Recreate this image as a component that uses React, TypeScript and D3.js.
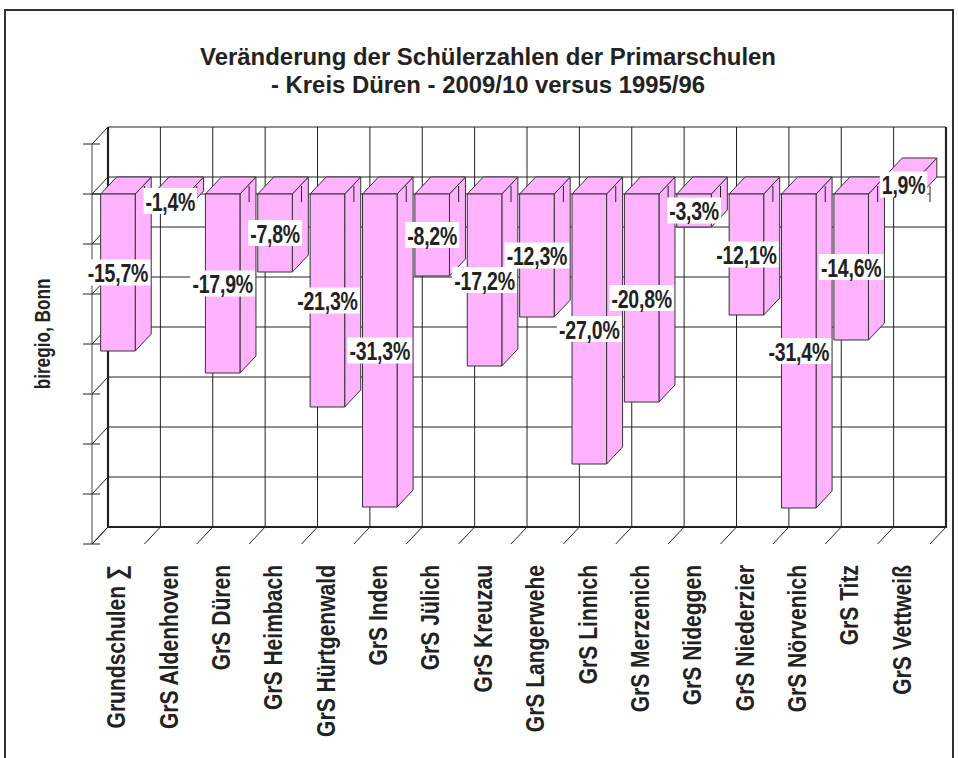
import React from "react";
import * as d3 from "d3";

const titleLines = [
  "Veränderung der Schülerzahlen der Primarschulen",
  "- Kreis Düren - 2009/10 versus 1995/96",
];
const yAxisTitle = "biregio, Bonn";
const categories = [
  "Grundschulen ∑",
  "GrS Aldenhoven",
  "GrS Düren",
  "GrS Heimbach",
  "GrS Hürtgenwald",
  "GrS Inden",
  "GrS Jülich",
  "GrS Kreuzau",
  "GrS Langerwehe",
  "GrS Linnich",
  "GrS Merzenich",
  "GrS Nideggen",
  "GrS Niederzier",
  "GrS Nörvenich",
  "GrS Titz",
  "GrS Vettweiß",
];
const values = [
  -15.7, -1.4, -17.9, -7.8, -21.3, -31.3, -8.2, -17.2, -12.3, -27.0, -20.8,
  -3.3, -12.1, -31.4, -14.6, 1.9,
];
const yTicks = [5, 0, -5, -10, -15, -20, -25, -30, -35];

const FONT = "'Liberation Sans', Arial, Helvetica, sans-serif";
const DX = 16;
const DY = 17;

const charW: Record<string, number> = {
  "0": 0.556, "1": 0.556, "2": 0.556, "3": 0.556, "4": 0.556, "5": 0.556,
  "6": 0.556, "7": 0.556, "8": 0.556, "9": 0.556, ",": 0.278, "-": 0.333,
  "%": 0.889,
};

function fmt(v: number) {
  return v.toFixed(1).replace(".", ",") + "%";
}

export default function App() {
  const W = 958;
  const H = 758;
  const x = d3.scaleBand<string>().domain(categories).range([92, 930]).padding(0);
  const y = d3.scaleLinear().domain([-35, 5]).range([544, 144]);
  const step = x.step();
  const barInset = step * 0.165;
  const barW = step * 0.66;
  const frontLeft = x.range()[0];
  const frontRight = x.range()[1];
  const backLeft = frontLeft + DX;
  const backRight = frontRight + DX;
  const backTop = y(5) - DY;
  const backBottom = y(-35) - DY;
  const y0 = y(0);
  const boundaries = d3.range(categories.length + 1).map((i) => frontLeft + i * step);

  const labelFs = 26;
  const labelK = 0.75;
  const catFs = 26;
  const catK = 0.81;
  const stroke = "#222";

  return (
    <svg
      width={W}
      height={H}
      style={{ position: "absolute", left: 0, top: 0, background: "#fff" }}
      fontFamily={FONT}
    >
      <rect x={0} y={0} width={W} height={H} fill="#fff" />
      {/* outer frame */}
      <rect x={5} y={10} width={948} height={800} fill="none" stroke="#333" strokeWidth={2} />

      {/* title */}
      {titleLines.map((t, i) => (
        <text
          key={i}
          x={488}
          y={65 + i * 28}
          textAnchor="middle"
          fontSize={23.5}
          fontWeight="bold"
          fill="#222"
          textLength={i === 0 ? 576 : 434}
          lengthAdjust="spacingAndGlyphs"
        >
          {t}
        </text>
      ))}

      {/* back wall gridlines */}
      {yTicks.map((t) => (
        <line key={"hg" + t} x1={backLeft} x2={backRight} y1={y(t) - DY} y2={y(t) - DY} stroke={stroke} strokeWidth={1} />
      ))}
      {boundaries.map((bx, i) => (
        <line key={"vg" + i} x1={bx + DX} x2={bx + DX} y1={backTop} y2={backBottom} stroke={stroke} strokeWidth={1} />
      ))}
      {/* back wall thick edges */}
      <line x1={backLeft} x2={backLeft} y1={backTop} y2={backBottom + 1} stroke={stroke} strokeWidth={2.2} />
      <line x1={backRight} x2={backRight} y1={backTop} y2={backBottom + 1} stroke={stroke} strokeWidth={2.2} />
      <line x1={backLeft} x2={backRight} y1={backBottom} y2={backBottom} stroke={stroke} strokeWidth={2.2} />

      {/* left side diagonals and front axis */}
      {yTicks.map((t) => (
        <g key={"lt" + t}>
          <line x1={frontLeft} y1={y(t)} x2={backLeft} y2={y(t) - DY} stroke={stroke} strokeWidth={1} />
          <line x1={frontLeft - 9} x2={frontLeft + 8} y1={y(t)} y2={y(t)} stroke={stroke} strokeWidth={1} />
        </g>
      ))}
      <line x1={frontLeft} x2={frontLeft} y1={y(5)} y2={y(-35)} stroke="#444" strokeWidth={1} />
      {/* floor diagonals */}
      {boundaries.map((bx, i) => (
        <line key={"fd" + i} x1={bx} y1={y(-35)} x2={bx + DX} y2={backBottom} stroke={stroke} strokeWidth={1} />
      ))}

      {/* front zero line */}
      <line x1={frontLeft} x2={frontRight} y1={y0} y2={y0} stroke={stroke} strokeWidth={1} />

      {/* bars */}
      {categories.map((c, i) => {
        const v = values[i];
        const x0 = (x(c) as number) + barInset;
        const x1 = x0 + barW;
        const top = Math.min(y(v), y0);
        const bot = Math.max(y(v), y0);
        const side = `M${x1},${top}L${x1 + DX},${top - DY}L${x1 + DX},${bot - DY}L${x1},${bot}Z`;
        const topF = `M${x0},${top}L${x1},${top}L${x1 + DX},${top - DY}L${x0 + DX},${top - DY}Z`;
        return (
          <g key={"b" + i} fill="#ffb3ff" stroke="#333" strokeWidth={1} strokeLinejoin="round">
            <path d={side} />
            <path d={topF} />
            <rect x={x0} y={top} width={barW} height={bot - top} />
          </g>
        );
      })}

      {/* category ticks at zero line */}
      {boundaries.slice(1).map((bx, i) => (
        <line key={"ct" + i} x1={bx} x2={bx} y1={y0 - 8} y2={y0 + 8} stroke={stroke} strokeWidth={1} />
      ))}

      {/* value labels */}
      {categories.map((c, i) => {
        const v = values[i];
        const s = fmt(v);
        const tw = s.split("").reduce((a, ch) => a + (charW[ch] || 0.556), 0) * labelFs * labelK;
        const cx = (x(c) as number) + barInset + barW / 2;
        const cy = (y(v) + y0) / 2;
        return (
          <g key={"l" + i}>
            <rect x={cx - tw / 2 - 1.5} y={cy - 13} width={tw + 3} height={26} fill="#fff" />
            <g transform={`translate(${cx},${cy + 9.5}) scale(${labelK},1)`}>
              <text textAnchor="middle" fontSize={labelFs} fontWeight="bold" fill="#222" letterSpacing={-0.3}>
                {s}
              </text>
            </g>
          </g>
        );
      })}

      {/* category labels */}
      {categories.map((c, i) => {
        const cx = (x(c) as number) + step / 2;
        return (
          <g key={"c" + i} transform={`translate(${cx + 7},${565}) rotate(-90) scale(${catK},1)`}>
            <text textAnchor="end" fontSize={catFs} fontWeight="bold" fill="#222">
              {c}
            </text>
          </g>
        );
      })}

      {/* y axis title */}
      <g transform={`translate(50,334) rotate(-90) scale(0.8,1)`}>
        <text textAnchor="middle" fontSize={21.5} fontWeight="bold" fill="#222">
          {yAxisTitle}
        </text>
      </g>
    </svg>
  );
}
